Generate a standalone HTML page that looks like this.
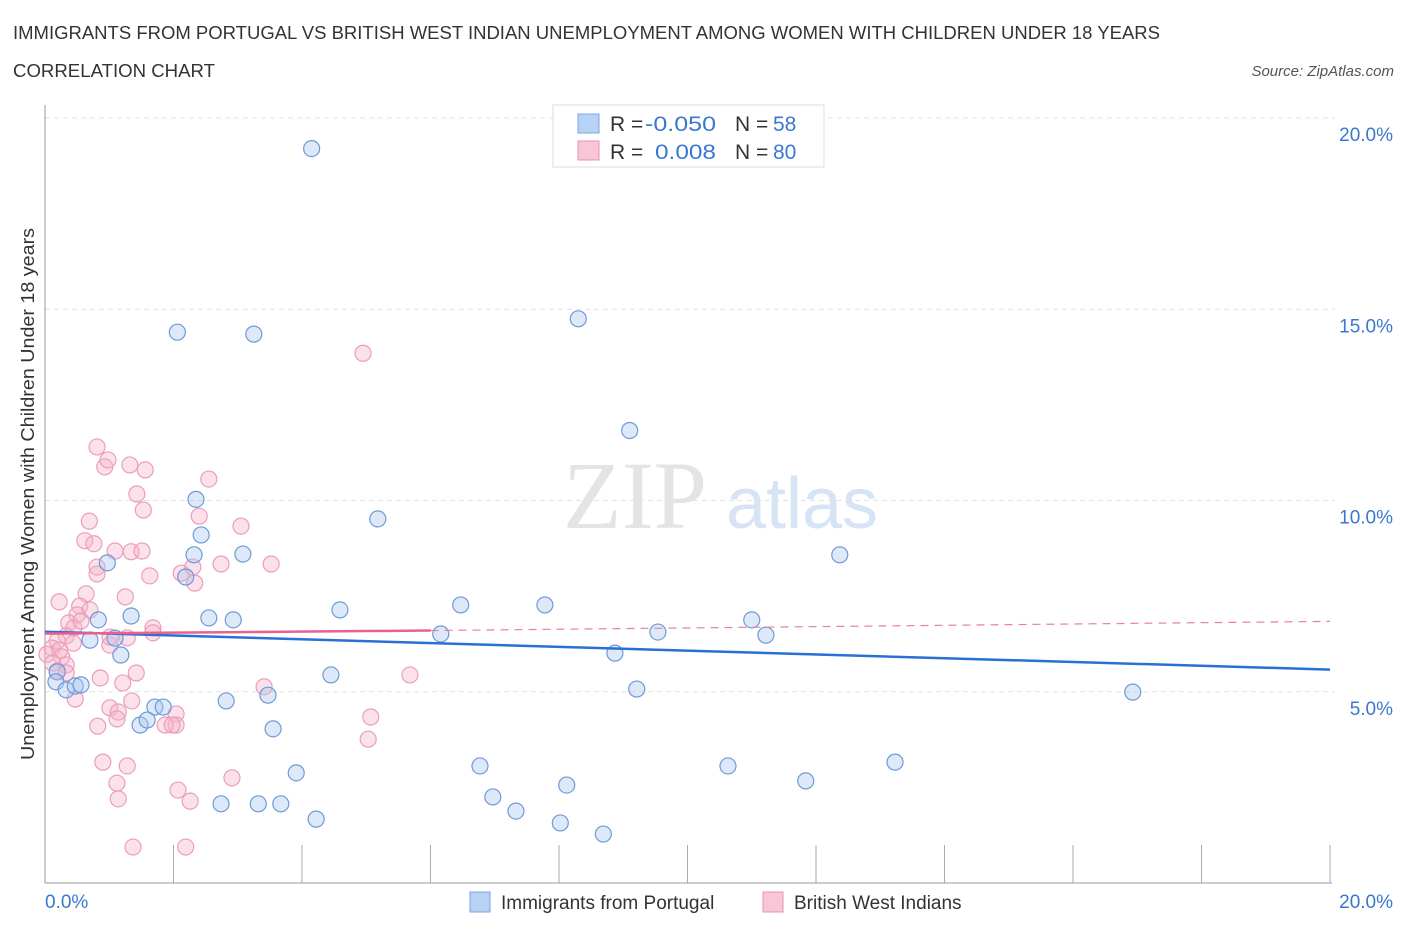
<!DOCTYPE html>
<html><head><meta charset="utf-8"><style>
body{margin:0;background:#fff;font-family:"Liberation Sans",sans-serif;}
svg{display:block}
</style></head><body>
<svg id="c" width="1406" height="930" xmlns="http://www.w3.org/2000/svg">
<text x="13" y="39" font-size="18.5" fill="#333" textLength="1147" lengthAdjust="spacingAndGlyphs">IMMIGRANTS FROM PORTUGAL VS BRITISH WEST INDIAN UNEMPLOYMENT AMONG WOMEN WITH CHILDREN UNDER 18 YEARS</text>
<text x="13" y="77" font-size="18.5" fill="#333" textLength="202" lengthAdjust="spacingAndGlyphs">CORRELATION CHART</text>
<text x="1394" y="76" font-size="15" fill="#555" font-style="italic" text-anchor="end">Source: ZipAtlas.com</text>
<text x="635" y="528" font-size="96" fill="#e4e4e4" font-family="Liberation Serif,serif" text-anchor="middle">ZIP</text>
<text x="802" y="528" font-size="72" fill="#d6e4f5" text-anchor="middle">atlas</text>
<g id="grid"></g><g id="pts"></g><g id="lines"></g>
<text transform="translate(34,494) rotate(-90)" font-size="18" fill="#333" text-anchor="middle" textLength="532" lengthAdjust="spacingAndGlyphs">Unemployment Among Women with Children Under 18 years</text>
<g>
<rect x="553" y="105" width="271" height="62" fill="#fff" stroke="#ddd"/>
<rect x="578" y="114" width="21" height="19" fill="#b8d2f5" stroke="#7aa6e0"/>
<rect x="578" y="141" width="21" height="19" fill="#f8c6d6" stroke="#e892ae"/>
<text x="610" y="131" font-size="21" fill="#333">R =</text>
<text x="645" y="131" font-size="21" fill="#3a78d0" textLength="71" lengthAdjust="spacingAndGlyphs">-0.050</text>
<text x="735" y="131" font-size="21" fill="#333">N =</text>
<text x="773" y="131" font-size="21" fill="#3a78d0">58</text>
<text x="610" y="159" font-size="21" fill="#333">R =</text>
<text x="655" y="159" font-size="21" fill="#3a78d0" textLength="61" lengthAdjust="spacingAndGlyphs">0.008</text>
<text x="735" y="159" font-size="21" fill="#333">N =</text>
<text x="773" y="159" font-size="21" fill="#3a78d0">80</text>
</g>
<g>
<rect x="470" y="892" width="20" height="20" fill="#b8d2f5" stroke="#7aa6e0"/>
<text x="501" y="909" font-size="19" fill="#333">Immigrants from Portugal</text>
<rect x="763" y="892" width="20" height="20" fill="#f8c6d6" stroke="#e892ae"/>
<text x="794" y="909" font-size="19" fill="#333">British West Indians</text>
</g>
</svg>
<script>
const yTicks=[5,10,15,20];
const yTickLabels=["5.0%","10.0%","15.0%","20.0%"];
const xTickLabels=["0.0%","20.0%"];
const blueX=[4.15,2.06,3.25,8.3,9.1,2.35,5.18,2.43,2.32,3.08,0.97,2.19,12.37,1.34,0.83,2.55,2.93,4.59,6.47,7.78,11.0,6.16,9.54,11.22,0.7,1.09,1.18,8.87,0.19,0.17,0.33,0.47,0.56,4.45,3.47,9.21,16.93,2.82,1.71,1.84,1.48,1.59,3.55,6.77,10.63,3.91,13.23,8.12,11.84,6.97,2.74,3.32,3.67,7.33,4.22,8.02,8.69];
const blueY=[19.2,14.4,14.35,14.75,11.83,10.03,9.52,9.1,8.58,8.6,8.37,8.0,8.58,6.98,6.88,6.93,6.88,7.14,7.27,7.27,6.88,6.51,6.56,6.48,6.35,6.4,5.96,6.01,5.52,5.26,5.05,5.15,5.18,5.44,4.91,5.07,4.99,4.76,4.6,4.6,4.13,4.26,4.03,3.06,3.06,2.88,3.16,2.56,2.67,2.25,2.07,2.07,2.07,1.88,1.67,1.57,1.28];
const pinkX=[4.95,0.81,0.93,0.98,1.32,1.56,2.55,1.43,1.53,0.69,3.05,2.4,0.62,0.76,1.09,1.34,1.51,3.52,0.81,1.63,2.12,2.3,2.74,0.81,2.33,0.22,1.25,0.64,0.54,0.7,0.5,0.37,0.45,0.56,1.68,1.68,0.33,1.28,1.01,0.19,0.11,0.23,0.44,1.01,0.03,0.26,0.12,0.33,0.19,0.33,5.68,1.42,0.86,1.21,3.41,0.47,1.35,1.01,1.14,2.04,2.04,1.12,1.87,1.98,5.07,0.82,5.03,0.9,1.28,2.91,1.12,2.07,2.26,1.14,1.37,2.19];
const pinkY=[13.85,11.4,10.88,11.06,10.93,10.8,10.56,10.17,9.75,9.46,9.33,9.59,8.95,8.87,8.68,8.66,8.68,8.34,8.26,8.03,8.1,8.26,8.34,8.08,7.84,7.35,7.48,7.56,7.24,7.14,7.01,6.8,6.67,6.85,6.67,6.54,6.46,6.41,6.22,6.33,6.14,6.09,6.27,6.43,5.98,5.91,5.75,5.7,5.54,5.49,5.44,5.49,5.36,5.23,5.13,4.81,4.76,4.58,4.47,4.42,4.13,4.29,4.13,4.13,4.34,4.1,3.76,3.16,3.06,2.75,2.61,2.43,2.14,2.2,0.94,0.94];
const blueTrend=[6.57,5.58];
const pinkTrend=[6.52,6.6,6.84];
const NS='http://www.w3.org/2000/svg';
const X0=45,X1=1330,Y0=883,Y20=118;
const sx=v=>X0+(X1-X0)*v/20, sy=v=>Y0-(Y0-Y20)*v/20;
function mk(t,a,p){const e=document.createElementNS(NS,t);for(const k in a)e.setAttribute(k,a[k]);p.appendChild(e);return e;}
const grid=document.getElementById('grid'),pts=document.getElementById('pts'),lines=document.getElementById('lines');
yTicks.forEach((t,i)=>{
 const l=mk('line',{x1:X0,x2:1335,y1:sy(t),y2:sy(t),stroke:'#e2e2e2','stroke-dasharray':'5,4'},grid);
 
 
 const tx=mk('text',{x:1393,y:sy(t)+23,'font-size':19,fill:'#3a78d0','text-anchor':'end'},grid);tx.textContent=yTickLabels[i];
 
 
});
const ax=mk('line',{x1:X0,x2:X0,y1:105,y2:Y0,stroke:'#999'},grid);


const bx=mk('line',{x1:X0,x2:1332,y1:Y0,y2:Y0,stroke:'#999'},grid);


for(let i=1;i<=10;i++){const t=mk('line',{x1:sx(i*2),x2:sx(i*2),y1:845,y2:Y0,stroke:'#aaa'},grid);
 
 }
[[X0,'start',0],[1393,'end',1]].forEach(([x,a,i])=>{const t=mk('text',{x:x,y:908,'font-size':19,fill:'#3a78d0','text-anchor':a},grid);t.textContent=xTickLabels[i];
 
 });
pinkX.forEach((v,i)=>{const c=mk('circle',{cx:sx(v),cy:sy(pinkY[i]),r:8,fill:'rgba(246,180,203,0.4)',stroke:'#ec9dba','stroke-width':1.2},pts);
 
 });
blueX.forEach((v,i)=>{const c=mk('circle',{cx:sx(v),cy:sy(blueY[i]),r:8,fill:'rgba(170,200,240,0.4)',stroke:'#6e9ad6','stroke-width':1.2},pts);
 
 });
const bl=mk('line',{x1:sx(0),y1:sy(blueTrend[0]),x2:sx(20),y2:sy(blueTrend[1]),stroke:'#2a6fd6','stroke-width':2.5},lines);


const pl=mk('line',{x1:sx(0),y1:sy(pinkTrend[0]),x2:sx(6),y2:sy(pinkTrend[1]),stroke:'#e8618f','stroke-width':2.5},lines);


const pd=mk('line',{x1:sx(6),y1:sy(pinkTrend[1]),x2:sx(20),y2:sy(pinkTrend[2]),stroke:'#e8809f','stroke-width':1.2,'stroke-dasharray':'8,6'},lines);


</script>
</body></html>
